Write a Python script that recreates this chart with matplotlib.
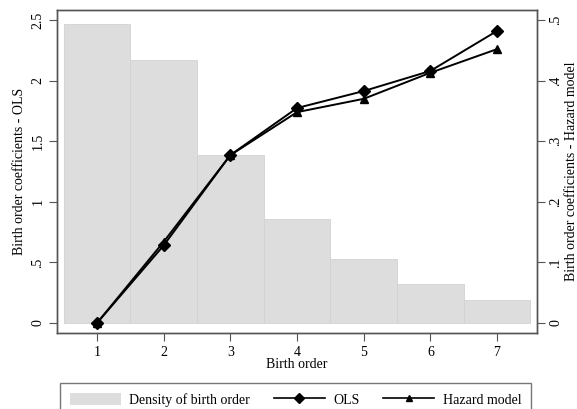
import matplotlib
matplotlib.use("Agg")
import matplotlib.pyplot as plt
from matplotlib.lines import Line2D
from matplotlib.patches import Patch
from matplotlib.ticker import FixedLocator, FixedFormatter

plt.rcParams['font.family'] = ['Liberation Serif', 'DejaVu Serif']
plt.rcParams['font.size'] = 10

# Data
birth_order = [1, 2, 3, 4, 5, 6, 7]
density = [0.311, 0.274, 0.175, 0.108, 0.067, 0.041, 0.024]
ols_coef = [0.0, 0.64, 1.386, 1.774, 1.914, 2.08, 2.41]
hazard_coef = [0.0, 0.134, 0.277, 0.348, 0.37, 0.413, 0.452]

left_ticks = [0, 0.5, 1, 1.5, 2, 2.5]
left_labels = ['0', '.5', '1', '1.5', '2', '2.5']
right_ticks = [0, 0.1, 0.2, 0.3, 0.4, 0.5]
right_labels = ['0', '.1', '.2', '.3', '.4', '.5']

frame_col = '#555555'
bar_col = '#dddddd'

fig = plt.figure(figsize=(5.77, 4.09), dpi=100)
pos = [57 / 577, 1 - 333 / 409, 480 / 577, 323 / 409]

# Histogram of birth order on its own hidden scale
ax_d = fig.add_axes(pos)
ax_d.bar(birth_order, density, width=1.0, color=bar_col,
         edgecolor='#d2d2d2', linewidth=0.6, zorder=1)
ax_d.set_ylim(-0.0104, 0.326)
ax_d.set_xlim(0.4, 7.6)
ax_d.xaxis.set_visible(False)
ax_d.yaxis.set_visible(False)
for s in ax_d.spines.values():
    s.set_visible(False)

# OLS coefficients on the left axis
ax = fig.add_axes(pos)
ax.patch.set_visible(False)
ax.plot(birth_order, ols_coef, color='black', lw=1.4, marker='D',
        markersize=6, zorder=3)
ax.set_ylim(-0.0825, 2.583)
ax.set_xlim(0.4, 7.6)
ax.yaxis.set_major_locator(FixedLocator(left_ticks))
ax.yaxis.set_major_formatter(FixedFormatter(left_labels))
ax.set_xticks(birth_order)
ax.set_xticklabels([str(b) for b in birth_order])
ax.set_xlabel('Birth order', labelpad=0)
ax.set_ylabel('Birth order coefficients - OLS', labelpad=4)
ax.tick_params(axis='y', direction='out', length=6, width=0.8,
               color=frame_col, rotation=90, pad=3)
ax.tick_params(axis='x', direction='out', length=6, width=0.8,
               color=frame_col, pad=3)
for lbl in ax.get_yticklabels():
    lbl.set_va('center')
for s in ax.spines.values():
    s.set_color(frame_col)
    s.set_linewidth(1.0)

# Hazard model coefficients on the right axis
ax_r = ax.twinx()
ax_r.plot(birth_order, hazard_coef, color='black', lw=1.4, marker='^',
          markersize=6, zorder=3)
ax_r.set_ylim(-0.0165, 0.5166)
ax_r.yaxis.set_major_locator(FixedLocator(right_ticks))
ax_r.yaxis.set_major_formatter(FixedFormatter(right_labels))
ax_r.set_ylabel('Birth order coefficients - Hazard model', labelpad=2)
ax_r.tick_params(axis='y', direction='out', length=6, width=0.8,
                 color=frame_col, rotation=90, pad=3)
for lbl in ax_r.get_yticklabels():
    lbl.set_va('center')
for s in ax_r.spines.values():
    s.set_color(frame_col)
    s.set_linewidth(1.0)

handles = [
    Patch(facecolor=bar_col, edgecolor='none', label='Density of birth order'),
    Line2D([], [], color='black', lw=1.2, marker='D', markersize=5, label='OLS'),
    Line2D([], [], color='black', lw=1.2, marker='^', markersize=5,
           label='Hazard model'),
]
leg = fig.legend(handles=handles, loc='upper left', ncol=3,
                 bbox_to_anchor=(60 / 577, 1 - 383 / 409 - 0.01, 471 / 577, 0.01),
                 mode='expand', frameon=True, fancybox=False,
                 handlelength=3.7, handleheight=1.0, handletextpad=0.6,
                 columnspacing=1.0, borderpad=0.7, borderaxespad=0)
leg.get_frame().set_edgecolor(frame_col)
leg.get_frame().set_linewidth(1.0)

fig.savefig('out.png', dpi=100)
